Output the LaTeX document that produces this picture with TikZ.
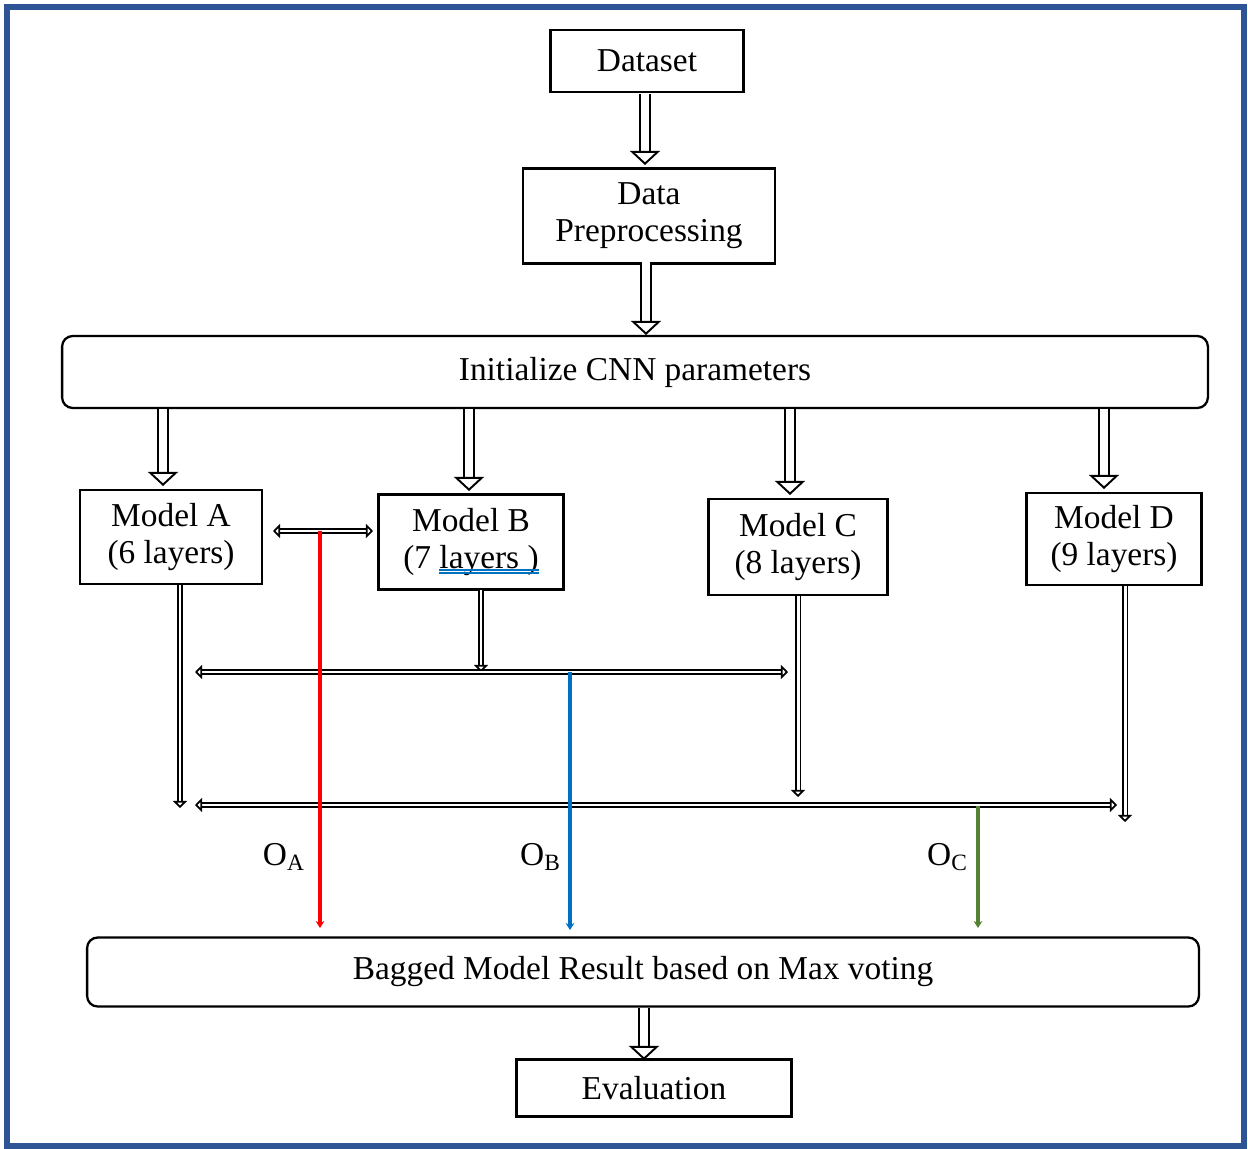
\documentclass[tikz,border=0pt]{standalone}
\usepackage{fontspec}
\setmainfont{Liberation Serif}
\usetikzlibrary{arrows.meta,positioning}
\definecolor{frameblue}{RGB}{47,84,150}
\definecolor{oblue}{RGB}{0,112,192}
\definecolor{ogreen}{RGB}{84,130,53}

\begin{document}
\begin{tikzpicture}[x=0.02cm, y=-0.02cm,
    every node/.style={font=\fontsize{19}{21}\selectfont},
    box/.style={draw, line width=1.3pt, align=center, inner sep=0pt},
    rbox/.style={box, rounded corners=6pt},
    bigarrow/.style={double, line width=1.1pt, double distance=4.6pt, -{Triangle[open, length=8pt, width=17pt]}},
    thinarrow/.style={double, line width=1.1pt, double distance=1.7pt, -{Triangle[open, length=4pt, width=8pt]}},
    twoway/.style={thinarrow, {Triangle[open, length=4pt, width=8pt]}-{Triangle[open, length=4pt, width=8pt]}},
    outline/.style={line width=2.2pt, -{Stealth[length=4pt, width=5pt]}}]
  \useasboundingbox (0,0) rectangle (1248,1149);
  \draw[frameblue, line width=2.9pt] (7,7) rectangle (1244,1146);

  \node[box, minimum width=3.86cm, minimum height=1.24cm] (dataset) at (647,61) {Dataset};
  \node[box, minimum width=5.04cm, minimum height=1.9cm] (prep) at (649,216) {Data\\Preprocessing};
  \node[rbox, minimum width=22.92cm, minimum height=1.44cm] (init) at (635,372) {Initialize CNN parameters};

  \node[box, minimum width=3.64cm, minimum height=1.88cm] (modela) at (171,537) {Model A\\(6 layers)};
  \node[box, minimum width=3.7cm, minimum height=1.9cm] (modelb) at (471,542) {Model B\\(7 layers )};
  \node[box, minimum width=3.58cm, minimum height=1.92cm] (modelc) at (798,547) {Model C\\(8 layers)};
  \node[box, minimum width=3.5cm, minimum height=1.84cm] (modeld) at (1114,539) {Model D\\(9 layers)};
  \draw[oblue, line width=0.6pt] (439,570) -- (539,570) (439,573) -- (539,573);

  \node[rbox, minimum width=22.24cm, minimum height=1.38cm] (bagged) at (643,972) {Bagged Model Result based on Max voting};
  \node[box, minimum width=5.5cm, minimum height=1.14cm] (eval) at (654,1088) {Evaluation};

  \draw[bigarrow] (645,94) -- (645,165);
  \draw[bigarrow] (646,262) -- (646,335);
  \draw[bigarrow] (163,409) -- (163,486);
  \draw[bigarrow] (469,409) -- (469,491);
  \draw[bigarrow] (790,409) -- (790,495);
  \draw[bigarrow] (1104,409) -- (1104,489);
  \draw[bigarrow] (644,1008) -- (644,1060);

  \coordinate (ab) at (320,531);
  \coordinate (hb) at (570,672);
  \coordinate (hc) at (978,806);
  \draw[twoway] (273,531) -- (373,531);
  \draw[thinarrow] (481,590) -- (481,672);
  \draw[twoway] (195,672) -- (788,672);
  \draw[thinarrow] (180,585) -- (180,808);
  \draw[thinarrow] (798,596) -- (798,797);
  \draw[thinarrow] (1125,586) -- (1125,822);
  \draw[twoway] (195,805) -- (1117,805);

  \draw[outline, red] (ab) -- (320,928);
  \draw[outline, oblue] (hb) -- (570,930);
  \draw[outline, ogreen] (hc) -- (978,928);

  \node[anchor=east] (oa) at (311,857) {O\textsubscript{A}};
  \node[anchor=east] (ob) at (567,857) {O\textsubscript{B}};
  \node[anchor=east] (oc) at (974,857) {O\textsubscript{C}};
\end{tikzpicture}
\end{document}
